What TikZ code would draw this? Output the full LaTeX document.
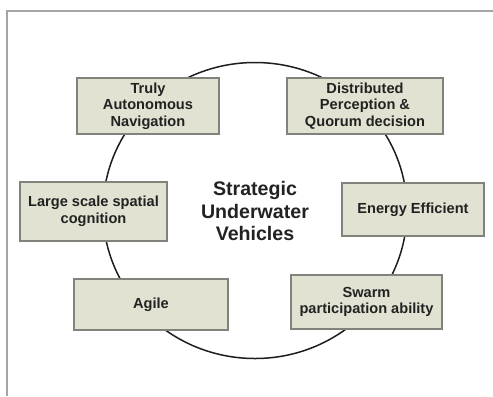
\documentclass[tikz,border=0pt]{standalone}
\usepackage{fontspec}
\setmainfont{Liberation Sans}
\definecolor{framegray}{RGB}{165,165,165}
\definecolor{ringcolor}{RGB}{30,30,30}
\definecolor{boxfill}{RGB}{226,226,210}
\definecolor{boxedge}{RGB}{130,130,124}
\definecolor{textdark}{RGB}{34,34,34}
\begin{document}
\begin{tikzpicture}[x=1bp,y=-1bp,
  feature/.style={draw=boxedge, fill=boxfill, line width=1.2bp, inner sep=0pt,
    align=center, text=textdark,
    font=\fontsize{14.6bp}{16.6bp}\selectfont\bfseries},
  hubtext/.style={align=center, text=textdark,
    font=\fontsize{19.6bp}{22.5bp}\selectfont\bfseries}]
  \useasboundingbox (0,0) rectangle (493,396);
  \fill[white] (0,0) rectangle (493,396);
  % page frame (left and top edges)
  \draw[framegray, line width=2bp] (7,396) -- (7,10.5) -- (493,10.5);
  % the ring joining the capabilities
  \coordinate (hub) at (255,210.5);
  \draw[ringcolor, line width=1.5bp] (hub) ellipse [x radius=152, y radius=148];
  % capability boxes
  \node[feature, minimum width=142bp, minimum height=56bp] (nav) at (148,106)
    {Truly\\Autonomous\\Navigation};
  \node[feature, minimum width=156bp, minimum height=56bp] (quorum) at (365,106)
    {Distributed\\Perception \&\\Quorum decision};
  \node[feature, minimum width=147bp, minimum height=59bp] (cognition) at (93.5,211.5)
    {Large scale spatial\\cognition};
  \node[feature, minimum width=142bp, minimum height=53bp] (energy) at (413,209.5)
    {Energy Efficient};
  \node[feature, minimum width=154bp, minimum height=51bp] (agile) at (151,304.5)
    {Agile};
  \node[feature, minimum width=151bp, minimum height=54bp] (swarm) at (366.5,302)
    {Swarm\\participation ability};
  % central label
  \node[hubtext] (title) at (255,211) {Strategic\\Underwater\\Vehicles};
\end{tikzpicture}
\end{document}
